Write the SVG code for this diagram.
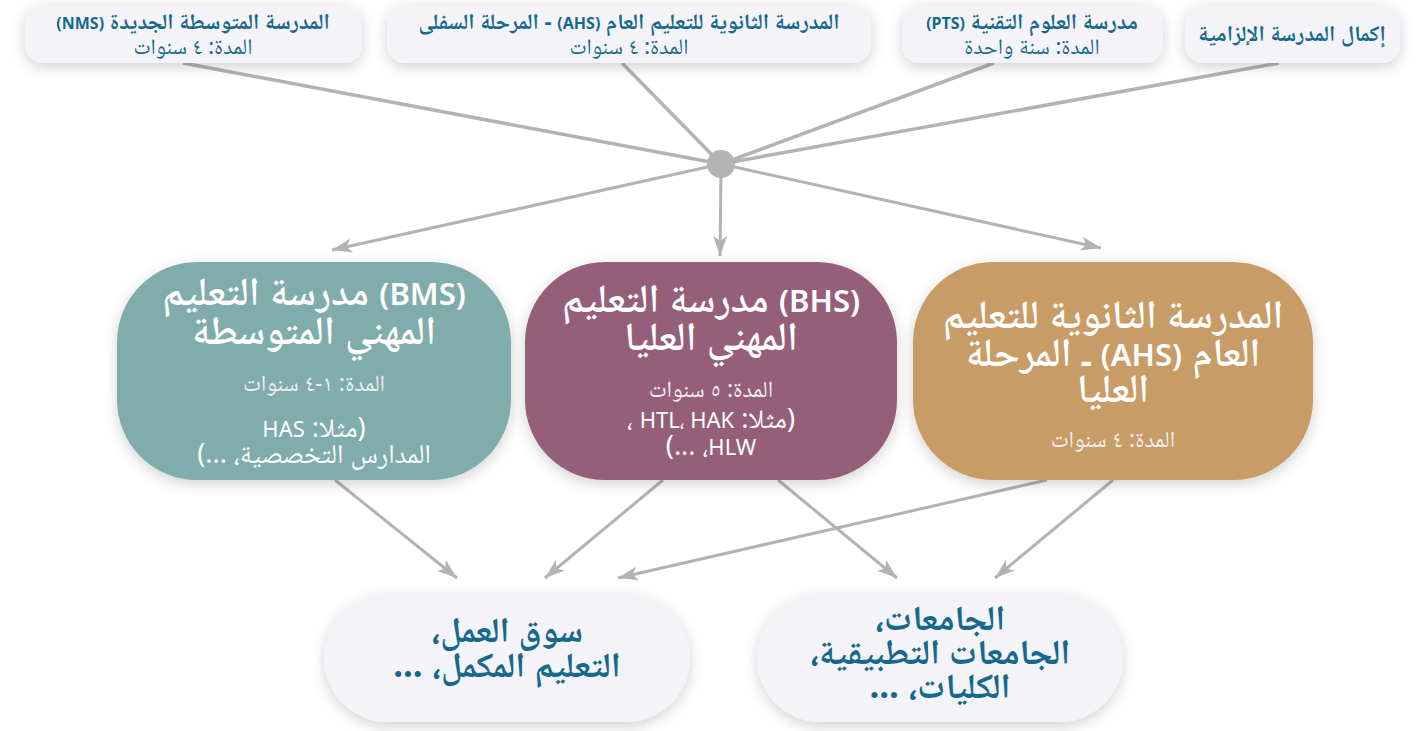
<svg xmlns="http://www.w3.org/2000/svg" width="1425" height="731" viewBox="0 0 1425 731">
<defs>
<filter id="sh" x="-20%" y="-30%" width="140%" height="160%">
<feDropShadow dx="0" dy="4" stdDeviation="7" flood-color="#000" flood-opacity="0.18"/>
</filter>
<marker id="ah" markerUnits="userSpaceOnUse" markerWidth="22" markerHeight="16" refX="20" refY="8" orient="auto">
<path d="M0,1 L20,8 L0,15 L5,8 z" fill="#b3b3b3"/>
</marker>
</defs>
<style>
text{font-family:"Noto Sans","Noto Naskh Arabic","Noto Sans Arabic","DejaVu Sans",sans-serif;text-anchor:middle;direction:rtl}
.top{fill:#f3f3f8;filter:url(#sh)}
.tt{fill:#17698c;font-size:22px;font-weight:700}
.td{fill:#17698c;font-size:22px}
.mid{filter:url(#sh)}
.mt{fill:#fff;font-size:40px;font-weight:600}
.md{fill:#f0f0f0;font-size:23px}
.me{fill:#fff;font-size:27px}
.bt{fill:#17698c;font-size:35px;font-weight:700}
.l16{font-size:16px}
.l32{font-size:31px}
.l22{font-size:22px}
.c{stroke:#b3b3b3;fill:none}
.c1{stroke-width:3.5}
.c2{stroke-width:3;marker-end:url(#ah)}
</style>
<g id="connectors">
<line class="c c1" x1="183" y1="63" x2="721" y2="164"/>
<line class="c c1" x1="622" y1="63" x2="721" y2="164"/>
<line class="c c1" x1="994" y1="63" x2="721" y2="164"/>
<line class="c c1" x1="1279" y1="63" x2="721" y2="164"/>
<line class="c c2" x1="721" y1="164" x2="332" y2="250"/>
<line class="c c2" x1="721" y1="164" x2="720" y2="256"/>
<line class="c c2" x1="721" y1="164" x2="1101" y2="248"/>
<line class="c c2" x1="335" y1="480" x2="457" y2="578"/>
<line class="c c2" x1="663" y1="480" x2="545" y2="578"/>
<line class="c c2" x1="1047" y1="480" x2="618" y2="578"/>
<line class="c c2" x1="778" y1="480" x2="897" y2="578"/>
<line class="c c2" x1="1113" y1="480" x2="995" y2="578"/>
<circle cx="721" cy="164" r="14" fill="#b3b3b3"/>
</g>
<g id="nms">
<rect class="top" x="25" y="5" width="337" height="58" rx="18"/>
<text class="tt" x="193" y="29">المدرسة المتوسطة الجديدة <tspan class="l16">(NMS)</tspan></text>
<text class="td" x="193" y="54">المدة: ٤ سنوات</text>
</g>
<g id="ahs-lower">
<rect class="top" x="387" y="5" width="484" height="58" rx="18"/>
<text class="tt" x="629" y="29">المدرسة الثانوية للتعليم العام <tspan class="l16">(AHS)</tspan> - المرحلة السفلى</text>
<text class="td" x="629" y="54">المدة: ٤ سنوات</text>
</g>
<g id="pts">
<rect class="top" x="902" y="5" width="261" height="58" rx="18"/>
<text class="tt" x="1032" y="29">مدرسة العلوم التقنية <tspan class="l16">(PTS)</tspan></text>
<text class="td" x="1032" y="54">المدة: سنة واحدة</text>
</g>
<g id="compulsory">
<rect class="top" x="1185" y="5" width="215" height="58" rx="18"/>
<text class="tt" x="1292" y="41">إكمال المدرسة الإلزامية</text>
</g>
<g id="bms">
<rect class="mid" x="117" y="262" width="394" height="218" rx="80" fill="#80acac"/>
<text class="mt" x="314" y="305"><tspan class="l32">(BMS)</tspan> مدرسة التعليم</text>
<text class="mt" x="314" y="344">المهني المتوسطة</text>
<text class="md" x="314" y="391">المدة: ١-٤ سنوات</text>
<text class="me" x="314" y="437">(مثلا: <tspan class="l22">HAS</tspan></text>
<text class="me" x="314" y="463">المدارس التخصصية، ...)</text>
</g>
<g id="bhs">
<rect class="mid" x="525" y="262" width="372" height="218" rx="80" fill="#965e79"/>
<text class="mt" x="711" y="312"><tspan class="l32">(BHS)</tspan> مدرسة التعليم</text>
<text class="mt" x="711" y="350">المهني العليا</text>
<text class="md" x="711" y="397">المدة: ٥ سنوات</text>
<text class="me" x="711" y="428">(مثلا: <tspan class="l22">HTL، HAK</tspan> ،</text>
<text class="me" x="711" y="455"><tspan class="l22">HLW</tspan>، ...)</text>
</g>
<g id="ahs-upper">
<rect class="mid" x="913" y="262" width="400" height="218" rx="80" fill="#c89c66"/>
<text class="mt" x="1113" y="328">المدرسة الثانوية للتعليم</text>
<text class="mt" x="1113" y="366">العام <tspan class="l32">(AHS)</tspan> ـ المرحلة</text>
<text class="mt" x="1113" y="402">العليا</text>
<text class="md" x="1113" y="447">المدة: ٤ سنوات</text>
</g>
<g id="labor">
<rect class="top" x="324" y="594" width="366" height="128" rx="64"/>
<text class="bt" x="507" y="642">سوق العمل،</text>
<text class="bt" x="507" y="677">التعليم المكمل، ...</text>
</g>
<g id="universities">
<rect class="top" x="757" y="594" width="366" height="128" rx="64"/>
<text class="bt" x="940" y="630">الجامعات،</text>
<text class="bt" x="940" y="664">الجامعات التطبيقية،</text>
<text class="bt" x="940" y="698">الكليات، ...</text>
</g>
</svg>
